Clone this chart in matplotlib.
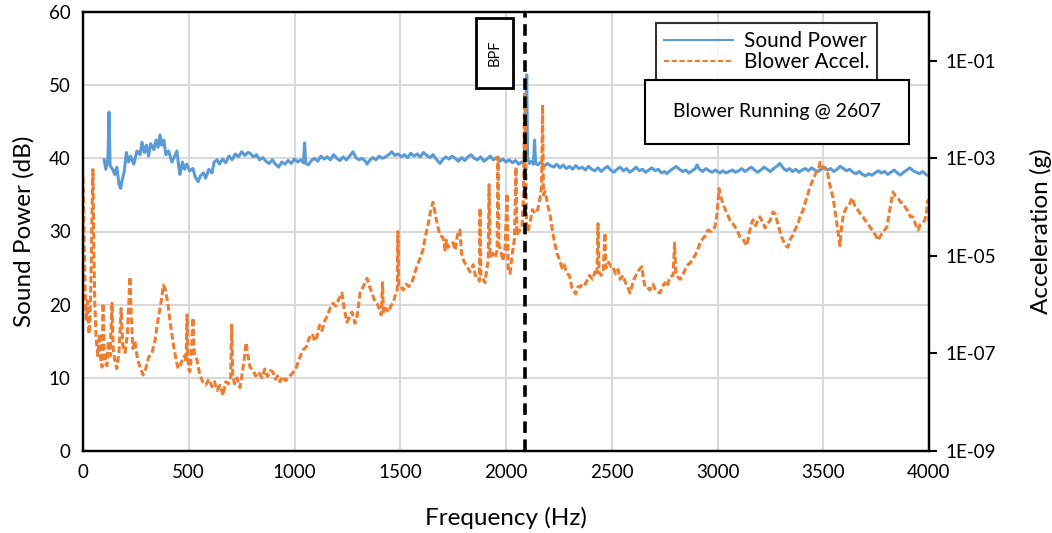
import matplotlib
matplotlib.use("Agg")
import matplotlib.pyplot as plt
from matplotlib.lines import Line2D
from matplotlib.patches import Rectangle
from matplotlib.ticker import FixedLocator, FuncFormatter, NullLocator
import numpy as np

plt.rcParams['font.family'] = ['Lato', 'DejaVu Sans']

# sound power (dB)
sp_freq = [100, 108, 118, 123, 128, 140, 150, 160, 170, 178, 185, 195, 205, 215, 225, 240, 255, 270, 279, 290,
           300, 310, 320, 335, 345, 355, 364, 372, 382, 392, 405, 420, 432, 444, 452, 458, 470, 480, 490, 505,
           520, 530, 544, 555, 570, 580, 595, 610, 620, 634, 645, 660, 675, 690, 705, 720, 735, 750, 765, 780,
           790, 805, 820, 835, 850, 865, 880, 895, 910, 925, 940, 955, 970, 985, 1000, 1015, 1030, 1042, 1048, 1053,
           1065, 1080, 1095, 1110, 1125, 1140, 1155, 1170, 1185, 1200, 1215, 1230, 1245, 1260, 1277, 1290, 1305, 1320, 1335, 1343,
           1355, 1370, 1385, 1400, 1415, 1430, 1445, 1460, 1475, 1490, 1505, 1520, 1535, 1550, 1565, 1580, 1595, 1610, 1625, 1640,
           1655, 1670, 1688, 1700, 1715, 1730, 1745, 1760, 1775, 1790, 1805, 1820, 1835, 1850, 1865, 1880, 1895, 1910, 1925, 1940,
           1955, 1970, 1985, 2000, 2015, 2030, 2045, 2060, 2075, 2085, 2092, 2098, 2102, 2110, 2120, 2130, 2135, 2140, 2150, 2165,
           2180, 2195, 2210, 2225, 2240, 2255, 2270, 2285, 2300, 2315, 2330, 2345, 2360, 2375, 2390, 2405, 2420, 2435, 2450, 2465,
           2480, 2495, 2510, 2525, 2540, 2555, 2570, 2585, 2600, 2615, 2630, 2645, 2660, 2675, 2690, 2705, 2720, 2735, 2750, 2761,
           2775, 2790, 2805, 2820, 2835, 2850, 2865, 2880, 2895, 2903, 2915, 2930, 2945, 2960, 2975, 2990, 3011, 3025, 3040, 3055,
           3070, 3085, 3100, 3115, 3130, 3145, 3160, 3175, 3190, 3205, 3220, 3235, 3250, 3265, 3280, 3295, 3310, 3325, 3340, 3355,
           3370, 3385, 3400, 3415, 3430, 3445, 3460, 3475, 3490, 3505, 3520, 3535, 3550, 3565, 3580, 3595, 3610, 3625, 3640, 3655,
           3670, 3685, 3700, 3715, 3730, 3745, 3760, 3775, 3790, 3805, 3820, 3835, 3850, 3865, 3880, 3895, 3910, 3925, 3940, 3955,
           3970, 3985, 4000]
sp_db = [39.8, 38.5, 40.0, 46.3, 39.0, 38.5, 37.8, 38.8, 36.5, 35.9, 37.0, 38.2, 40.8, 39.5, 40.3, 39.2, 41.0, 40.5, 42.2, 40.8,
         41.8, 40.3, 42.0, 41.2, 42.5, 41.5, 43.2, 41.8, 42.5, 40.5, 41.0, 39.5, 40.2, 41.0, 39.0, 37.8, 39.5, 38.5, 39.2, 38.3,
         38.6, 37.5, 36.8, 37.6, 38.0, 37.3, 38.5, 38.0, 39.5, 39.8, 39.2, 39.9, 39.4, 40.3, 39.8, 40.6, 40.2, 40.9, 40.4, 40.8,
         40.7, 40.2, 40.5, 39.8, 40.1, 39.6, 39.3, 39.8, 39.2, 38.8, 39.5, 39.2, 39.7, 39.3, 39.9, 39.5, 39.8, 39.4, 42.1, 39.3,
         39.1, 39.7, 40.0, 39.6, 40.3, 39.9, 40.2, 39.8, 40.5, 40.0, 39.7, 40.2, 39.8, 40.3, 40.9, 40.1, 39.8, 40.0, 39.6, 39.2,
         39.7, 40.1, 39.8, 40.3, 40.0, 40.2, 40.5, 40.9, 40.4, 40.6, 40.2, 40.5, 40.1, 40.7, 40.3, 40.6, 40.2, 40.8, 40.4, 40.1,
         40.5, 39.9, 39.3, 39.8, 40.2, 39.9, 40.3, 40.0, 39.6, 40.1, 39.7, 40.2, 40.5, 40.0, 39.8, 40.2, 39.6, 39.9, 40.3, 39.8,
         40.1, 39.6, 39.9, 39.5, 39.8, 39.4, 39.7, 39.2, 39.5, 39.3, 45.0, 51.4, 40.0, 39.3, 39.6, 39.2, 42.5, 39.4, 39.1, 39.5,
         38.9, 39.3, 39.0, 38.8, 39.2, 38.7, 39.1, 38.6, 38.9, 38.5, 39.0, 38.6, 38.8, 38.4, 38.9, 38.5, 38.3, 38.7, 38.2, 38.6,
         38.9, 38.4, 38.1, 38.5, 38.8, 38.3, 38.6, 38.1, 38.4, 38.8, 38.3, 38.5, 38.1, 38.4, 38.7, 38.3, 38.5, 38.0, 38.2, 37.9,
         38.3, 38.6, 38.9, 38.5, 38.2, 38.4, 38.0, 38.3, 38.6, 39.1, 38.5, 38.2, 38.6, 38.3, 38.1, 38.4, 38.0, 38.3, 38.0, 38.2,
         38.4, 38.1, 38.3, 38.6, 38.2, 38.5, 38.8, 38.4, 38.1, 38.4, 38.8, 38.5, 38.2, 38.6, 38.9, 39.3, 38.7, 38.3, 38.6, 38.2,
         38.5, 38.1, 38.4, 38.6, 38.3, 38.7, 38.4, 38.2, 38.5, 38.8, 38.4, 38.6, 38.2, 38.5, 38.9, 38.6, 38.3, 38.5, 38.1, 37.9,
         38.2, 37.8, 37.6, 37.9, 37.7, 38.0, 38.3, 38.0, 38.2, 37.8, 38.1, 38.4, 38.0, 37.7, 38.1, 38.4, 38.7, 38.3, 38.1, 37.9,
         38.2, 37.8, 37.6]

# blower acceleration, log10 of g
acc_freq = [0, 5, 10, 16, 22, 28, 33, 38, 43, 47, 51, 56, 62, 70, 78, 84, 90, 95, 100, 106,
            113, 120, 128, 137, 143, 150, 160, 170, 180, 188, 199, 210, 222, 229, 236, 246, 258, 270, 284, 296,
            310, 326, 340, 355, 370, 380, 390, 402, 415, 428, 440, 450, 459, 470, 480, 487, 492, 496, 502, 506,
            512, 520, 526, 539, 552, 567, 580, 595, 610, 622, 634, 648, 662, 675, 688, 698, 703, 708, 716, 728,
            742, 755, 764, 771, 780, 790, 804, 816, 830, 846, 860, 872, 885, 898, 910, 920, 931, 945, 958, 969,
            985, 1000, 1012, 1025, 1040, 1055, 1070, 1085, 1095, 1106, 1118, 1130, 1144, 1155, 1168, 1182, 1195, 1210, 1224, 1235,
            1248, 1260, 1272, 1280, 1286, 1296, 1310, 1325, 1343, 1355, 1368, 1380, 1390, 1400, 1410, 1416, 1421, 1432, 1445, 1455,
            1466, 1478, 1486, 1489, 1493, 1502, 1515, 1528, 1540, 1555, 1570, 1582, 1595, 1607, 1620, 1632, 1645, 1655, 1665, 1675,
            1688, 1702, 1712, 1718, 1725, 1738, 1750, 1760, 1770, 1782, 1790, 1800, 1816, 1830, 1845, 1855, 1868, 1874, 1877, 1881,
            1892, 1901, 1910, 1916, 1920, 1925, 1939, 1950, 1958, 1962, 1967, 1972, 1985, 1995, 2005, 2010, 2019, 2030, 2040, 2047,
            2052, 2060, 2066, 2075, 2083, 2088, 2092, 2097, 2104, 2115, 2125, 2137, 2150, 2160, 2168, 2173, 2177, 2185, 2199, 2210,
            2220, 2230, 2241, 2255, 2265, 2275, 2288, 2300, 2310, 2317, 2330, 2340, 2350, 2365, 2375, 2383, 2395, 2410, 2420, 2430,
            2435, 2440, 2450, 2460, 2468, 2472, 2485, 2496, 2506, 2518, 2530, 2540, 2553, 2565, 2575, 2586, 2595, 2605, 2619, 2630,
            2643, 2650, 2658, 2667, 2680, 2695, 2710, 2728, 2740, 2752, 2762, 2775, 2790, 2797, 2803, 2812, 2823, 2835, 2847, 2860,
            2870, 2882, 2895, 2906, 2917, 2930, 2943, 2955, 2970, 2988, 2998, 3007, 3015, 3030, 3045, 3060, 3075, 3092, 3106, 3120,
            3130, 3139, 3150, 3160, 3168, 3180, 3190, 3201, 3215, 3225, 3234, 3248, 3262, 3272, 3286, 3300, 3315, 3325, 3333, 3345,
            3356, 3366, 3380, 3392, 3404, 3420, 3437, 3450, 3465, 3478, 3485, 3492, 3505, 3518, 3530, 3546, 3560, 3572, 3579, 3586,
            3596, 3612, 3625, 3636, 3650, 3662, 3675, 3688, 3700, 3712, 3724, 3735, 3748, 3759, 3772, 3785, 3801, 3812, 3822, 3830,
            3842, 3855, 3866, 3877, 3890, 3900, 3913, 3924, 3936, 3948, 3960, 3970, 3981, 3990, 3995, 4000]
acc_log = [-3.38, -4.5, -5.7, -6.3, -5.93, -6.6, -6.38, -5.4, -4.05, -3.23, -4.8, -6.0, -6.68, -7.05, -6.6, -7.13, -7.28, -5.97, -6.9, -7.2,
           -7.25, -6.75, -7.05, -5.97, -6.9, -7.13, -7.31, -6.98, -6.08, -6.83, -6.98, -6.6, -5.43, -6.3, -6.9, -6.75, -7.13, -7.28, -7.44, -7.32,
           -7.08, -6.99, -6.75, -6.3, -5.93, -5.6, -5.7, -6.0, -6.45, -6.83, -7.13, -7.31, -7.25, -7.13, -7.05, -7.17, -6.21, -7.13, -7.35, -7.37,
           -7.05, -6.27, -6.98, -7.13, -7.43, -7.59, -7.65, -7.53, -7.68, -7.58, -7.76, -7.65, -7.86, -7.58, -7.62, -7.5, -6.42, -7.43, -7.62, -7.5,
           -7.7, -7.35, -7.05, -6.78, -7.05, -7.28, -7.35, -7.46, -7.38, -7.5, -7.32, -7.47, -7.35, -7.38, -7.53, -7.46, -7.58, -7.47, -7.56, -7.5,
           -7.43, -7.35, -7.25, -7.08, -6.93, -6.87, -6.68, -6.6, -6.75, -6.66, -6.42, -6.53, -6.32, -6.23, -6.08, -5.97, -6.03, -5.88, -5.76, -6.08,
           -6.36, -6.26, -6.15, -6.27, -6.38, -6.24, -5.76, -5.63, -5.46, -5.63, -5.78, -5.93, -5.97, -6.08, -6.21, -5.55, -6.18, -6.08, -6.15, -6.03,
           -5.97, -5.78, -5.7, -4.5, -5.63, -5.63, -5.7, -5.58, -5.63, -5.55, -5.33, -5.18, -5.03, -4.88, -4.58, -4.35, -4.05, -3.9, -4.13, -4.35,
           -4.58, -4.62, -4.88, -4.68, -4.83, -4.76, -4.73, -4.88, -4.58, -4.47, -4.95, -5.1, -5.22, -5.33, -5.18, -5.4, -5.43, -5.52, -4.02, -5.4,
           -5.48, -5.55, -5.25, -5.1, -3.54, -5.03, -4.95, -5.03, -4.88, -2.97, -4.8, -4.85, -5.1, -4.88, -3.72, -5.25, -5.36, -4.95, -4.65, -3.18,
           -4.58, -4.5, -4.47, -4.43, -3.75, -1.65, -2.4, -4.35, -4.5, -4.28, -4.05, -4.13, -4.05, -3.83, -3.6, -1.9, -3.75, -3.68, -3.99, -4.2,
           -4.5, -4.73, -4.95, -5.1, -5.25, -5.18, -5.36, -5.4, -5.63, -5.7, -5.78, -5.63, -5.64, -5.55, -5.58, -5.51, -5.4, -5.48, -5.33, -5.4,
           -4.34, -5.33, -5.4, -5.28, -4.53, -5.25, -5.13, -5.22, -5.22, -5.37, -5.28, -5.48, -5.4, -5.55, -5.63, -5.76, -5.63, -5.48, -5.36, -5.28,
           -5.22, -5.48, -5.64, -5.64, -5.7, -5.58, -5.73, -5.76, -5.63, -5.55, -5.63, -5.43, -5.4, -4.74, -5.33, -5.43, -5.48, -5.4, -5.28, -5.18,
           -5.15, -5.07, -4.98, -4.88, -4.74, -4.65, -4.58, -4.47, -4.5, -4.41, -4.13, -3.62, -3.78, -3.98, -4.13, -4.28, -4.35, -4.47, -4.61, -4.65,
           -4.73, -4.79, -4.53, -4.35, -4.26, -4.38, -4.28, -4.2, -4.32, -4.43, -4.35, -4.28, -4.1, -4.13, -4.35, -4.58, -4.73, -4.8, -4.82, -4.65,
           -4.58, -4.47, -4.35, -4.17, -4.07, -3.83, -3.59, -3.45, -3.3, -3.23, -3.08, -3.15, -3.21, -3.24, -3.53, -3.8, -4.2, -4.58, -4.79, -4.43,
           -4.13, -3.99, -3.93, -3.81, -3.98, -4.05, -4.13, -4.2, -4.28, -4.35, -4.43, -4.5, -4.58, -4.68, -4.58, -4.5, -4.41, -4.13, -3.87, -3.69,
           -3.78, -3.83, -3.9, -3.92, -4.02, -4.08, -4.2, -4.2, -4.35, -4.47, -4.35, -4.32, -4.26, -4.05, -3.86, -4.28]

bpf_freq = 2090
x_ticks = [0, 500, 1000, 1500, 2000, 2500, 3000, 3500, 4000]
y_ticks = [0, 10, 20, 30, 40, 50, 60]
acc_ticks = [1e-9, 1e-7, 1e-5, 1e-3, 1e-1]

blue = '#5b9bd5'
orange = '#ed7d31'

fig = plt.figure(figsize=(10.52, 5.33), dpi=100)
ax = fig.add_axes([83 / 1052, 1 - 451 / 533, 846 / 1052, 439 / 533])
ax2 = ax.twinx()

ax.plot(sp_freq, sp_db, color=blue, lw=2.2, zorder=3)
ax2.plot(acc_freq, 10 ** np.array(acc_log), color=orange, lw=2.2, ls=(0, (2.2, 1.0)))
ax2.axvline(bpf_freq, color='black', lw=2.6, ls=(0, (3.2, 1.8)), zorder=5)

ax.set_xlim(0, 4000)
ax.set_ylim(0, 60)
ax.set_xticks(x_ticks)
ax.set_yticks(y_ticks)
ax.grid(True, color='#d9d9d9', lw=1.5)
ax.set_axisbelow(True)
ax.tick_params(axis='both', length=0, labelsize=13.5, pad=9)

ax2.set_yscale('log')
ax2.set_ylim(1e-9, 1)
ax2.yaxis.set_major_locator(FixedLocator(acc_ticks))
ax2.yaxis.set_minor_locator(NullLocator())
ax2.yaxis.set_major_formatter(FuncFormatter(lambda v, p: '1E%03d' % round(np.log10(v))))
ax2.tick_params(axis='y', direction='out', length=6, width=1.5, labelsize=13.5, pad=6)

for a in (ax, ax2):
    for s in a.spines.values():
        s.set_color('black')
        s.set_linewidth(1.6)

ax.set_xlabel('Frequency (Hz)', fontsize=17.5, labelpad=19)
ax.set_ylabel('Sound Power (dB)', fontsize=17.5, labelpad=10)
ax2.set_ylabel('Acceleration (g)', fontsize=17.5, labelpad=24)

handles = [Line2D([], [], color=blue, lw=1.5),
           Line2D([], [], color=orange, lw=1.5, ls=(0, (2.5, 1.2)))]
leg = ax2.legend(handles, ['Sound Power', 'Blower Accel.'], loc='upper left',
                 bbox_to_anchor=(656 / 1052, 1 - 23 / 533), bbox_transform=fig.transFigure,
                 fontsize=15, handlelength=3.3, frameon=True, fancybox=False,
                 borderpad=0.4, labelspacing=0.05, handletextpad=0.5, borderaxespad=0)
leg.get_frame().set_edgecolor('black')
leg.get_frame().set_linewidth(1.5)

# boxed annotations
fig.patches.append(Rectangle((645 / 1052, 1 - 144 / 533), 264 / 1052, 64 / 533,
                             transform=fig.transFigure, fill=True, facecolor='white',
                             edgecolor='black', lw=1.5, zorder=10))
fig.text(777 / 1052, 1 - 112 / 533, 'Blower Running @ 2607', fontsize=14,
         ha='center', va='center', zorder=11)
fig.patches.append(Rectangle((476 / 1052, 1 - 88 / 533), 37 / 1052, 70 / 533,
                             transform=fig.transFigure, fill=True, facecolor='white',
                             edgecolor='black', lw=2, zorder=10))
fig.text(494.5 / 1052, 1 - 53 / 533, 'BPF', fontsize=10.5, rotation=90,
         ha='center', va='center', zorder=11)

fig.savefig('out.png', dpi=100)
